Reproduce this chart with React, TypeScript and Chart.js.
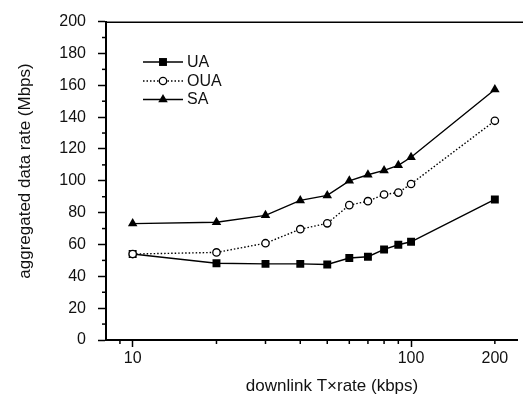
import React, { useEffect, useRef } from "react";
import { Chart, registerables } from "chart.js";

Chart.register(...registerables);

const rates = [10, 20, 30, 40, 50, 60, 70, 80, 90, 100, 200];
const uaValues = [54, 48.2, 47.8, 47.8, 47.4, 51.5, 52.3, 56.9, 59.8, 61.7, 88.3];
const ouaValues = [54, 55, 60.8, 69.6, 73.3, 84.7, 87.2, 91.4, 92.6, 98, 137.7];
const saValues = [73.1, 74, 78.3, 87.7, 90.8, 100, 103.8, 106.5, 109.7, 114.8, 157.4];
const seriesNames = ["UA", "OUA", "SA"];
const xTickValues = [10, 100, 200];
const xMinorTicks = [9, 20, 30, 40, 50, 60, 70, 80, 90, 200];
const yMinorTicks = [10, 30, 50, 70, 90, 110, 130, 150, 170, 190];
const xTitle = "downlink T×rate (kbps)";
const yTitle = "aggregated data rate (Mbps)";

const FONT = "'Liberation Sans', Arial, Helvetica, sans-serif";

function drawMarker(ctx: CanvasRenderingContext2D, style: string, x: number, y: number, r: number) {
  ctx.save();
  ctx.fillStyle = "#000";
  ctx.strokeStyle = "#000";
  ctx.lineWidth = 1.3;
  ctx.setLineDash([]);
  ctx.beginPath();
  if (style === "rect") {
    const s = Math.SQRT1_2 * r;
    ctx.rect(x - s, y - s, 2 * s, 2 * s);
    ctx.fill();
  } else if (style === "circle") {
    ctx.arc(x, y, r, 0, Math.PI * 2);
    ctx.fillStyle = "#fff";
    ctx.fill();
    ctx.stroke();
  } else if (style === "triangle") {
    ctx.moveTo(x, y - r);
    ctx.lineTo(x + r * Math.sin(Math.PI / 3), y + r / 2);
    ctx.lineTo(x - r * Math.sin(Math.PI / 3), y + r / 2);
    ctx.closePath();
    ctx.fill();
  }
  ctx.restore();
}

const decorPlugin = {
  id: "decor",
  afterDraw(chart: any) {
    const ctx: CanvasRenderingContext2D = chart.ctx;
    const area = chart.chartArea;
    const xs = chart.scales.x;
    const ys = chart.scales.y;
    ctx.save();
    ctx.strokeStyle = "#000";
    // top frame line
    ctx.lineWidth = 1.5;
    ctx.beginPath();
    ctx.moveTo(area.left, Math.round(area.top) + 0.25);
    ctx.lineTo(chart.width, Math.round(area.top) + 0.25);
    ctx.stroke();
    // minor ticks
    ctx.lineWidth = 1.5;
    yMinorTicks.forEach((v) => {
      const y = ys.getPixelForValue(v);
      ctx.beginPath();
      ctx.moveTo(area.left - 4, y);
      ctx.lineTo(area.left, y);
      ctx.stroke();
    });
    xMinorTicks.forEach((v) => {
      const x = xs.getPixelForValue(v);
      ctx.beginPath();
      ctx.moveTo(x, area.bottom);
      ctx.lineTo(x, area.bottom + 4);
      ctx.stroke();
    });
    // legend
    const rows = [62, 81, 99.5];
    const styles = ["rect", "circle", "triangle"];
    const radii = [5.6, 3.7, 5.5];
    const dashes = [[], [1.5, 2], []];
    rows.forEach((ry, i) => {
      ctx.save();
      ctx.lineWidth = 1.4;
      ctx.setLineDash(dashes[i]);
      ctx.beginPath();
      ctx.moveTo(143, ry);
      ctx.lineTo(183, ry);
      ctx.stroke();
      ctx.restore();
      drawMarker(ctx, styles[i], 163, ry, radii[i]);
      ctx.fillStyle = "#111";
      ctx.font = `16px ${FONT}`;
      ctx.textBaseline = "middle";
      ctx.textAlign = "left";
      ctx.fillText(seriesNames[i], 187, ry + 0.5);
    });
    // axis titles
    ctx.fillStyle = "#111";
    ctx.font = `17px ${FONT}`;
    ctx.textAlign = "center";
    ctx.textBaseline = "alphabetic";
    ctx.fillText(xTitle, 332, 391);
    ctx.save();
    ctx.translate(29.5, 171);
    ctx.rotate(-Math.PI / 2);
    ctx.fillText(yTitle, 0, 0);
    ctx.restore();
    ctx.restore();
  },
};

export default function App() {
  const canvasRef = useRef<HTMLCanvasElement | null>(null);

  useEffect(() => {
    if (!canvasRef.current) return;
    Chart.defaults.font.family = FONT;
    const toPoints = (vals: number[]) => rates.map((r, i) => ({ x: r, y: vals[i] }));
    const chart = new Chart(canvasRef.current, {
      type: "line",
      data: {
        datasets: [
          {
            label: seriesNames[0],
            data: toPoints(uaValues),
            borderColor: "#000",
            borderWidth: 1.4,
            pointStyle: "rect",
            pointRadius: 5.6,
            pointBackgroundColor: "#000",
            pointBorderColor: "#000",
            pointBorderWidth: 0,
            order: 1,
          },
          {
            label: seriesNames[1],
            data: toPoints(ouaValues),
            borderColor: "#000",
            borderWidth: 1.4,
            borderDash: [1.5, 2],
            pointStyle: "circle",
            pointRadius: 3.7,
            pointBackgroundColor: "#fff",
            pointBorderColor: "#000",
            pointBorderWidth: 1.3,
            order: 0,
          },
          {
            label: seriesNames[2],
            data: toPoints(saValues),
            borderColor: "#000",
            borderWidth: 1.4,
            pointStyle: "triangle",
            pointRadius: 5.5,
            pointBackgroundColor: "#000",
            pointBorderColor: "#000",
            pointBorderWidth: 0,
            order: 2,
          },
        ],
      },
      options: {
        responsive: false,
        animation: false,
        layout: { padding: { top: 19, right: 0, left: 0, bottom: 0 } },
        plugins: {
          legend: { display: false },
          tooltip: { enabled: false },
        },
        elements: { line: { tension: 0 } },
        scales: {
          x: {
            type: "logarithmic",
            min: 8.02,
            max: 241,
            afterBuildTicks: (scale: any) => {
              scale.ticks = xTickValues.map((v) => ({ value: v }));
            },
            afterFit: (scale: any) => {
              scale.height = 60;
            },
            ticks: {
              autoSkip: false,
              maxRotation: 0,
              padding: 2,
              color: "#111",
              font: { size: 16 },
              callback: (v: any) => String(v),
            },
            grid: {
              drawOnChartArea: false,
              drawTicks: true,
              tickLength: 7,
              tickWidth: 1.5,
              tickColor: (c: any) => (c.tick && c.tick.value === 200 ? "rgba(0,0,0,0)" : "#000"),
            },
            border: { display: true, color: "#000", width: 2 },
          },
          y: {
            type: "linear",
            min: 0,
            max: 200,
            afterFit: (scale: any) => {
              scale.width = 106;
            },
            ticks: {
              stepSize: 20,
              padding: 12,
              color: "#111",
              font: { size: 16 },
            },
            grid: {
              drawOnChartArea: false,
              drawTicks: true,
              tickLength: 8,
              tickWidth: 1.5,
              tickColor: "#000",
            },
            border: { display: true, color: "#000", width: 2 },
          },
        },
      },
      plugins: [decorPlugin],
    });
    return () => chart.destroy();
  }, []);

  return (
    <div style={{ position: "absolute", left: 0, top: 0, width: 523, height: 400, background: "#fff" }}>
      <canvas ref={canvasRef} width={523} height={400} />
    </div>
  );
}
